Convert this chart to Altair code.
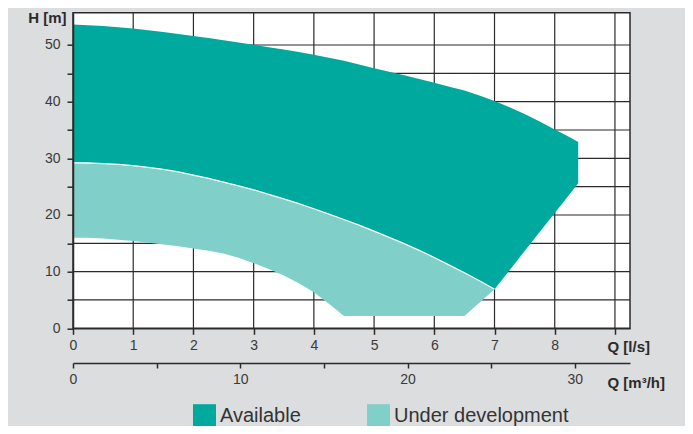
import altair as alt
import pandas as pd

# ---- data (flow Q in l/s, head H in m) ----
# "Available" field: upper limit, and lower limit (shared curve up to 7 l/s,
# then the straight right-hand edge up to 8.39 l/s)
Q_AVAIL = [0, 0.25, 0.5, 0.75, 1, 1.25, 1.5, 1.75, 2, 2.25, 2.5, 2.75, 3, 3.25, 3.5,
           3.75, 4, 4.25, 4.5, 4.75, 5, 5.25, 5.5, 5.75, 6, 6.25, 6.5, 6.75, 7,
           7.25, 7.5, 7.75, 8, 8.25, 8.39]
H_AVAIL_TOP = [53.6, 53.5, 53.35, 53.15, 52.9, 52.6, 52.3, 51.95, 51.6, 51.22, 50.85,
               50.45, 50.05, 49.62, 49.2, 48.75, 48.3, 47.75, 47.2, 46.55, 45.9, 45.28,
               44.65, 44.0, 43.35, 42.65, 41.95, 41.1, 40.1, 39.0, 37.8, 36.5, 35.1,
               33.7, 32.9]
H_AVAIL_BOTTOM = [29.2, 29.17, 29.07, 28.92, 28.7, 28.4, 28.05, 27.6, 27.05, 26.45,
                  25.8, 25.15, 24.45, 23.65, 22.85, 22.0, 21.1, 20.15, 19.2, 18.2,
                  17.15, 16.05, 14.95, 13.75, 12.5, 11.15, 9.8, 8.4, 6.9,
                  10.26, 13.63, 16.99, 20.35, 23.71, 25.6]

# "Under development" field
Q_DEV = [0, 0.25, 0.5, 0.75, 1, 1.25, 1.5, 1.75, 2, 2.25, 2.5, 2.75, 3, 3.25, 3.5,
         3.75, 4, 4.25, 4.5, 4.75, 5, 5.25, 5.5, 5.75, 6, 6.25, 6.5, 6.75, 7]
H_DEV_TOP = [29.2, 29.17, 29.07, 28.92, 28.7, 28.4, 28.05, 27.6, 27.05, 26.45, 25.8,
             25.15, 24.45, 23.65, 22.85, 22.0, 21.1, 20.15, 19.2, 18.2, 17.15, 16.05,
             14.95, 13.75, 12.5, 11.15, 9.8, 8.4, 6.9]
H_DEV_BOTTOM = [16.0, 15.97, 15.85, 15.65, 15.4, 15.1, 14.8, 14.5, 14.1, 13.7, 13.2,
                12.45, 11.5, 10.45, 9.3, 7.95, 6.35, 4.35, 2.17, 2.17, 2.17, 2.17,
                2.17, 2.17, 2.17, 2.17, 2.17, 4.53, 6.9]

SERIES = ["Available", "Under development"]
COLORS = ["#00A99D", "#80CFC9"]

GRID_Q = [1, 2, 3, 4, 5, 6, 7, 8, 9]
GRID_H = [5, 10, 15, 20, 25, 30, 35, 40, 45, 50]
TICKS_Q = [i * 0.5 for i in range(19)]
TICKS_H = [i * 5 for i in range(11)]
TICKS_M3H = [0, 5, 10, 15, 20, 25, 30]

Q_MAX = 9.25
H_MAX = 55.7
M3H_MAX = Q_MAX * 3.6

INK = "#2b2b2b"
LABEL = "#3a3a3a"

avail = pd.DataFrame({"q": Q_AVAIL, "top": H_AVAIL_TOP, "bottom": H_AVAIL_BOTTOM,
                      "status": SERIES[0]})
dev = pd.DataFrame({"q": Q_DEV, "top": H_DEV_TOP, "bottom": H_DEV_BOTTOM,
                    "status": SERIES[1]})

x_scale = alt.Scale(domain=[0, Q_MAX], nice=False, zero=False)
y_scale = alt.Scale(domain=[0, H_MAX], nice=False, zero=False)

x_axis = alt.Axis(
    values=TICKS_Q, format="d",
    labelExpr="datum.value % 1 === 0 && datum.value < 9 ? datum.label : ''",
    grid=False, tickSize=6, tickWidth=1.5, tickColor=INK,
    domainColor=INK, domainWidth=1.5,
    labelFontSize=14, labelColor=LABEL, labelPadding=4,
    labelFlush=False, labelOverlap=False,
    title="Q [l/s]", titleFontSize=15, titleFontWeight="bold", titleColor=INK,
    titleX=534, titleY=18, titleAlign="left", titleBaseline="middle",
    zindex=1,
)
y_axis = alt.Axis(
    values=TICKS_H, format="d",
    labelExpr="datum.value % 10 === 0 ? datum.label : ''",
    grid=False, tickSize=6, tickWidth=1.5, tickColor=INK,
    domainColor=INK, domainWidth=1.5,
    labelFontSize=14, labelColor=LABEL, labelPadding=7,
    labelFlush=False, labelOverlap=False,
    title="H [m]", titleFontSize=15, titleFontWeight="bold", titleColor=INK,
    titleAngle=0, titleX=-7, titleY=5, titleAlign="right", titleBaseline="middle",
    zindex=1,
)
m3_axis = alt.Axis(
    orient="bottom", offset=34.7,
    values=TICKS_M3H, format="d",
    labelExpr="datum.value % 10 === 0 ? datum.label : ''",
    grid=False, tickSize=5, tickWidth=1.5, tickColor=INK,
    domainColor=INK, domainWidth=1.5,
    labelFontSize=14, labelColor=LABEL, labelPadding=4,
    labelFlush=False, labelOverlap=False,
    title="Q [m³/h]", titleFontSize=15, titleFontWeight="bold", titleColor=INK,
    titleX=534, titleY=19, titleAlign="left", titleBaseline="middle",
    zindex=1,
)

color = alt.Color(
    "status:N",
    scale=alt.Scale(domain=SERIES, range=COLORS),
    legend=alt.Legend(
        orient="none", legendX=120, legendY=391.5, direction="horizontal",
        title=None, symbolType="square", symbolSize=529, symbolStrokeWidth=0,
        symbolOpacity=1, labelFontSize=20, labelColor="#333333", labelOffset=4,
        labelLimit=400, columnPadding=66, padding=0,
    ),
)

X = alt.X("q:Q", scale=x_scale, axis=x_axis)
Y = alt.Y("top:Q", scale=y_scale, axis=y_axis)

grid_v = alt.Chart(pd.DataFrame({"q": GRID_Q})).mark_rule(
    color=INK, strokeWidth=1.2
).encode(x=X)

grid_h = alt.Chart(pd.DataFrame({"h": GRID_H})).mark_rule(
    color=INK, strokeWidth=1.2
).encode(y=alt.Y("h:Q", scale=y_scale, axis=y_axis))

dark = alt.Chart(avail).mark_area(interpolate="linear").encode(
    x=X, y=Y, y2="bottom:Q", color=color
)
light = alt.Chart(dev).mark_area(interpolate="linear").encode(
    x=X, y=Y, y2="bottom:Q", color=color
)
divider = alt.Chart(dev).mark_line(
    color="white", strokeWidth=1.3, interpolate="linear"
).encode(x=X, y=Y)

main = alt.layer(grid_v, grid_h, dark, light, divider)

m3 = alt.Chart(pd.DataFrame({"m": TICKS_M3H})).mark_rule(opacity=0).encode(
    x=alt.X("m:Q", scale=alt.Scale(domain=[0, M3H_MAX], nice=False, zero=False),
            axis=m3_axis)
)

chart = alt.layer(main, m3).resolve_scale(x="independent").properties(
    width=557, height=315.6,
    autosize=alt.AutoSizeParams(type="none"),
    padding={"left": 65, "top": 4.7, "right": 55, "bottom": 97.7},
    background="#DCDDDF",
).configure(font="Liberation Sans").configure_view(
    fill="white", stroke=INK, strokeWidth=1.5
)

chart.save("out.html", embed_options={"renderer": "svg", "actions": False})
